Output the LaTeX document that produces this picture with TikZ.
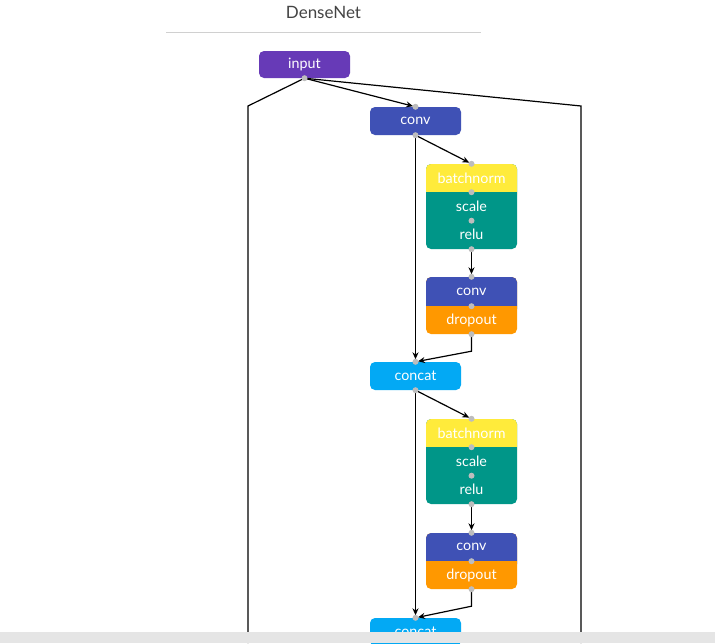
\documentclass[tikz,border=0pt]{standalone}
\usepackage{fontspec}
\setmainfont{Lato}
\usetikzlibrary{arrows.meta}
\definecolor{cinput}{HTML}{673AB7}
\definecolor{cconv}{HTML}{3F51B5}
\definecolor{cbn}{HTML}{FFEB3B}
\definecolor{cteal}{HTML}{009688}
\definecolor{cdrop}{HTML}{FF9800}
\definecolor{cconcat}{HTML}{03A9F4}
\definecolor{cport}{HTML}{BDBDBD}
\definecolor{ctitle}{HTML}{444444}
\definecolor{crule}{HTML}{D0D0D0}
\definecolor{cband}{HTML}{E5E5E5}
\tikzset{
  lbl/.style={text=white, font=\fontsize{14.3}{16}\selectfont, minimum width=91pt,
    minimum height=28pt, inner sep=0pt, anchor=center},
  single/.style={lbl, rounded corners=5pt, fill=#1},
  port/.style={circle, fill=cport, inner sep=0pt, minimum size=6pt},
  link/.style={line width=1.2pt, black},
  flow/.style={link, -{Stealth[length=7pt,width=6pt]}, shorten >=2.5pt},
}
\begin{document}
\begin{tikzpicture}[x=1pt,y=-1pt]
\useasboundingbox (0,0) rectangle (715,643);
\fill[white] (0,0) rectangle (715,643);

% title and rule
\node[text=ctitle, font=\fontsize{17}{20}\selectfont] (title) at (323.5,12) {DenseNet};
\draw[crule, line width=1pt] (166,32) -- (481,32);

% single-layer nodes
\node[single=cinput, minimum height=27pt] (input) at (304.5,64.5) {input};
\node[single=cconv] (conv1) at (415.5,121) {conv};
\node[single=cconcat] (concat1) at (415.5,376) {concat};
\node[single=cconcat] (concat2) at (415.5,632) {concat};

% composite block: batchnorm / scale / relu (first)
\fill[cteal, rounded corners=5pt] (426,164) rectangle (517,249);
\fill[cbn, rounded corners=5pt] (426,164) rectangle (517,200);
\fill[cteal] (426,192) rectangle (517,206);
\node[lbl] (bn1) at (471.5,178) {batchnorm};
\node[lbl, minimum height=28.5pt] (sc1) at (471.5,206.25) {scale};
\node[lbl, minimum height=28.5pt] (re1) at (471.5,234.75) {relu};

% composite block: conv / dropout (first)
\fill[cdrop, rounded corners=5pt] (426,277) rectangle (517,334);
\fill[cconv, rounded corners=5pt] (426,277) rectangle (517,314);
\fill[cdrop] (426,306) rectangle (517,320);
\node[lbl, minimum height=29pt] (cv1) at (471.5,291.5) {conv};
\node[lbl] (dr1) at (471.5,320) {dropout};

% composite block: batchnorm / scale / relu (second)
\fill[cteal, rounded corners=5pt] (426,419) rectangle (517,504);
\fill[cbn, rounded corners=5pt] (426,419) rectangle (517,455);
\fill[cteal] (426,447) rectangle (517,461);
\node[lbl] (bn2) at (471.5,433) {batchnorm};
\node[lbl, minimum height=28.5pt] (sc2) at (471.5,461.25) {scale};
\node[lbl, minimum height=28.5pt] (re2) at (471.5,489.75) {relu};

% composite block: conv / dropout (second)
\fill[cdrop, rounded corners=5pt] (426,533) rectangle (517,589);
\fill[cconv, rounded corners=5pt] (426,533) rectangle (517,569);
\fill[cdrop] (426,561) rectangle (517,575);
\node[lbl] (cv2) at (471.5,547) {conv};
\node[lbl] (dr2) at (471.5,575) {dropout};

% long skip lines leaving the input
\coordinate (lbend) at (248,106);
\coordinate (lfoot) at (248,643);
\coordinate (rbend) at (581,106);
\coordinate (rfoot) at (581,643);
\draw[link] (input.south) -- (lbend) -- (lfoot);
\draw[link] (input.south) -- (rbend) -- (rfoot);

% data flow
\draw[flow] (input.south) -- (conv1.north);
\draw[flow] (conv1.south) -- (bn1.north);
\draw[flow] (re1.south) -- (cv1.north);
\draw[flow] (dr1.south) -- ++(0,17) -- (concat1.north);
\draw[flow] (conv1.south) -- (concat1.north);
\draw[flow] (concat1.south) -- (bn2.north);
\draw[flow] (re2.south) -- (cv2.north);
\draw[flow] (dr2.south) -- ++(0,17) -- (concat2.north);
\draw[flow] (concat1.south) -- (concat2.north);

% ports
\foreach \p in {input.south, conv1.north, conv1.south, concat1.north, concat1.south,
  concat2.north, bn1.north, bn1.south, sc1.south, re1.south, cv1.north, cv1.south,
  dr1.south, bn2.north, bn2.south, sc2.south, re2.south, cv2.north, cv2.south, dr2.south}
  \node[port] at (\p) {};

% bottom band
\fill[cband] (0,632) rectangle (715,643);
\end{tikzpicture}
\end{document}
